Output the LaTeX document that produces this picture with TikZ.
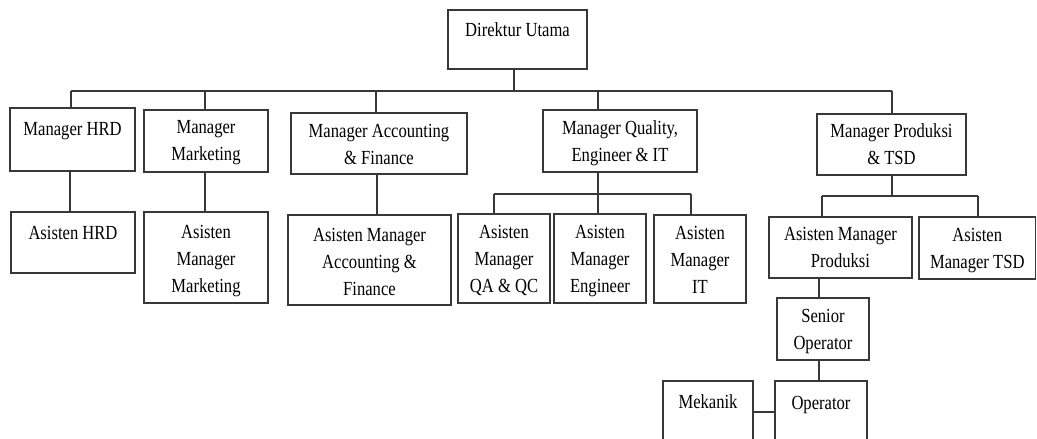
\documentclass[tikz,border=0pt]{standalone}
\usepackage{fontspec}
\setmainfont[FakeStretch=0.83]{Liberation Serif}
\begin{document}
\begin{tikzpicture}[x=1pt,y=-1pt,
  box/.style={draw=black!78, line width=1.1pt, inner sep=0pt, fill=none},
  lbl/.style={inner sep=0pt, align=center, text=black, font=\fontsize{20}{27}\selectfont},
  conn/.style={draw=black!78, line width=1.1pt}]
\useasboundingbox (0,0) rectangle (1037,439);
% #6 = baseline of the LAST text line
\newcommand\obox[7]{%
  \node[box, minimum width={#4-#2}, minimum height={#5-#3}] (#1) at ({(#2+#4)/2},{(#3+#5)/2}) {};
  \node[lbl, anchor=base] (#1-t) at ({(#2+#4)/2},#6) {#7};}
\obox{dir}{448}{10}{587}{69}{36}{Direktur Utama}
\obox{hrd}{10}{108}{135}{171}{135.7}{Manager HRD}
\obox{mkt}{144}{110}{268}{172}{160}{Manager\\Marketing}
\obox{acc}{291}{113}{467}{174}{164}{Manager Accounting\\\& Finance}
\obox{qual}{543}{110}{697}{172}{161}{Manager Quality,\\Engineer \& IT}
\obox{prod}{817}{114}{966}{175}{164.5}{Manager Produksi\\\& TSD}
\obox{ahrd}{11}{212}{135}{273}{239}{Asisten HRD}
\obox{amkt}{144}{212}{268}{303}{292}{Asisten\\Manager\\Marketing}
\obox{aacc}{288}{215}{451}{305}{295}{Asisten Manager\\Accounting \&\\Finance}
\obox{aqa}{458}{214}{550}{303}{292.3}{Asisten\\Manager\\QA \& QC}
\obox{aeng}{554}{214}{646}{303}{292.3}{Asisten\\Manager\\Engineer}
\obox{ait}{654}{215}{746}{303}{293}{Asisten\\Manager\\IT}
\obox{aprod}{769}{217}{912}{278}{267.5}{Asisten Manager\\Produksi}
\obox{atsd}{919}{217}{1035.5}{279}{268.3}{Asisten\\Manager TSD}
\obox{senior}{777}{298}{869}{360}{349.3}{Senior\\Operator}
\obox{op}{775}{381}{867}{470}{409}{Operator}
\obox{mek}{663}{381}{753}{470}{408}{Mekanik}
% top bus
\coordinate (b-dir) at (514,91);
\coordinate (b-hrd) at (71,91);
\coordinate (b-mkt) at (205,91);
\coordinate (b-acc) at (376,91);
\coordinate (b-qual) at (598,91);
\coordinate (b-prod) at (892,91);
\draw[conn] (b-hrd) -- (b-prod);
\draw[conn] (dir.south -| b-dir) -- (b-dir);
\draw[conn] (b-hrd) -- (b-hrd |- hrd.north);
\draw[conn] (b-mkt) -- (b-mkt |- mkt.north);
\draw[conn] (b-acc) -- (b-acc |- acc.north);
\draw[conn] (b-qual) -- (b-qual |- qual.north);
\draw[conn] (b-prod) -- (b-prod |- prod.north);
% single links
\coordinate (x-hrd) at (70,0);
\coordinate (x-mkt) at (205,0);
\coordinate (x-acc) at (377,0);
\draw[conn] (hrd.south -| x-hrd) -- (ahrd.north -| x-hrd);
\draw[conn] (mkt.south -| x-mkt) -- (amkt.north -| x-mkt);
\draw[conn] (acc.south -| x-acc) -- (aacc.north -| x-acc);
% quality group
\coordinate (q-top) at (598,194);
\coordinate (q-l) at (494,194);
\coordinate (q-r) at (691,194);
\draw[conn] (qual.south -| q-top) -- (q-top);
\draw[conn] (q-l) -- (q-r);
\draw[conn] (q-l) -- (q-l |- aqa.north);
\draw[conn] (q-top) -- (q-top |- aeng.north);
\draw[conn] (q-r) -- (q-r |- ait.north);
% produksi group
\coordinate (p-top) at (892,196);
\coordinate (p-l) at (822,196);
\coordinate (p-r) at (978,196);
\draw[conn] (prod.south -| p-top) -- (p-top);
\draw[conn] (p-l) -- (p-r);
\draw[conn] (p-l) -- (p-l |- aprod.north);
\draw[conn] (p-r) -- (p-r |- atsd.north);
\coordinate (s-x) at (819,0);
\draw[conn] (aprod.south -| s-x) -- (senior.north -| s-x);
\draw[conn] (senior.south -| s-x) -- (op.north -| s-x);
\coordinate (m-y) at (0,412);
\draw[conn] (mek.east |- m-y) -- (op.west |- m-y);
\end{tikzpicture}
\end{document}
